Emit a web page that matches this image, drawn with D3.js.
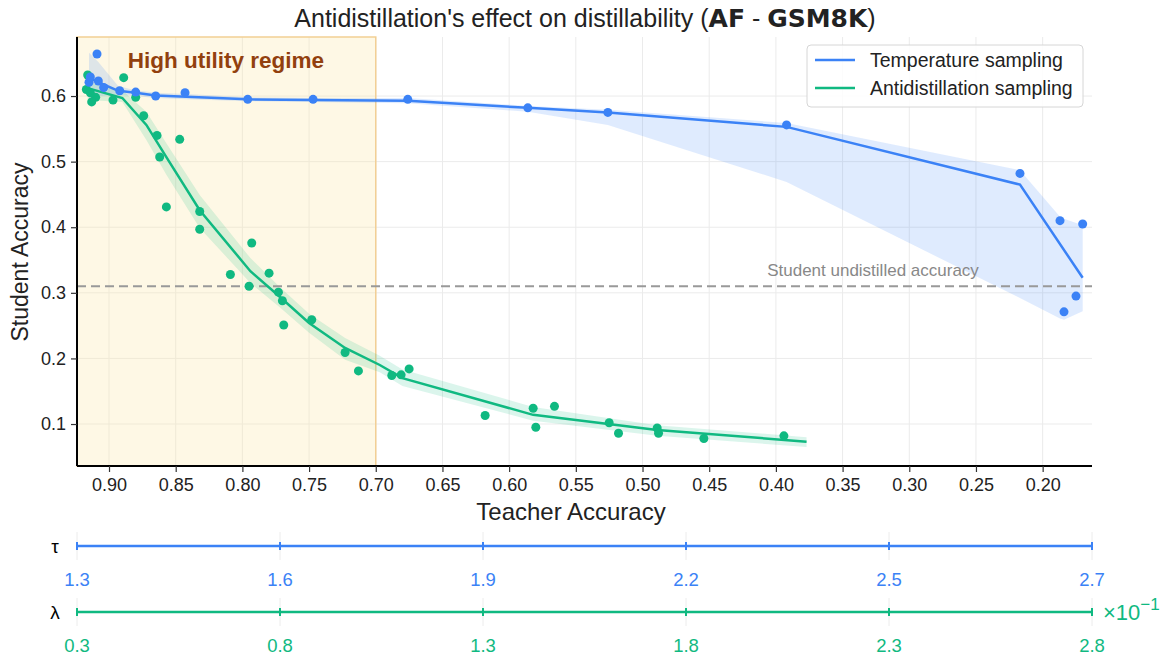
<!DOCTYPE html>
<html>
<head>
<meta charset="utf-8">
<script src="https://cdn.jsdelivr.net/npm/d3@7"></script>
<style>
  body { margin: 0; background: #fff; }
  text { font-family: "Liberation Sans", Arial, sans-serif; }
</style>
</head>
<body>
<div id="chart"></div>
<script>
// ---- data ----
// temperature sampling: scatter points (teacher acc, student acc)
var tempPtX = [0.909, 0.915, 0.914, 0.908, 0.904, 0.892, 0.880, 0.865, 0.843, 0.796, 0.747, 0.676, 0.586, 0.526, 0.392, 0.217, 0.187, 0.170, 0.175, 0.184];
var tempPtY = [0.664, 0.621, 0.629, 0.623, 0.613, 0.608, 0.606, 0.600, 0.605, 0.595, 0.595, 0.595, 0.582, 0.575, 0.556, 0.482, 0.410, 0.405, 0.295, 0.271];
// temperature sampling: mean line
var tempLineX = [0.915, 0.908, 0.893, 0.880, 0.865, 0.842, 0.796, 0.747, 0.676, 0.586, 0.526, 0.392, 0.217, 0.170];
var tempLineY = [0.628, 0.621, 0.608, 0.605, 0.601, 0.599, 0.595, 0.594, 0.593, 0.582, 0.575, 0.553, 0.465, 0.323];
// temperature sampling: confidence band
var tempBandX  = [0.915, 0.908, 0.893, 0.880, 0.865, 0.842, 0.796, 0.747, 0.676, 0.586, 0.526, 0.392, 0.217, 0.187, 0.184, 0.170];
var tempBandHi = [0.666, 0.652, 0.615, 0.609, 0.605, 0.603, 0.598, 0.597, 0.597, 0.585, 0.579, 0.559, 0.487, 0.416, 0.413, 0.403];
var tempBandLo = [0.594, 0.600, 0.602, 0.600, 0.597, 0.595, 0.592, 0.591, 0.589, 0.576, 0.556, 0.469, 0.292, 0.261, 0.259, 0.272];

// antidistillation sampling: scatter points
var antiPtX = [0.916, 0.889, 0.917, 0.914, 0.910, 0.913, 0.897, 0.880, 0.874, 0.864, 0.862, 0.847, 0.857, 0.832, 0.832, 0.793, 0.809, 0.780, 0.795, 0.773, 0.770, 0.769, 0.748, 0.723, 0.713, 0.688, 0.681, 0.675, 0.618, 0.582, 0.580, 0.566, 0.525, 0.518, 0.489, 0.488, 0.454, 0.394];
var antiPtY = [0.632, 0.628, 0.610, 0.605, 0.598, 0.591, 0.594, 0.598, 0.570, 0.540, 0.507, 0.534, 0.431, 0.424, 0.397, 0.376, 0.328, 0.330, 0.310, 0.301, 0.288, 0.251, 0.259, 0.209, 0.181, 0.174, 0.175, 0.184, 0.113, 0.124, 0.095, 0.127, 0.102, 0.086, 0.094, 0.086, 0.078, 0.082];
// antidistillation sampling: mean line and band
var antiLineX = [0.916, 0.890, 0.872, 0.857, 0.832, 0.794, 0.772, 0.750, 0.723, 0.697, 0.680, 0.582, 0.489, 0.377];
var antiLineY = [0.612, 0.597, 0.556, 0.507, 0.426, 0.333, 0.294, 0.254, 0.216, 0.190, 0.170, 0.114, 0.091, 0.073];
var antiBandHi = [0.621, 0.609, 0.576, 0.528, 0.449, 0.353, 0.309, 0.268, 0.231, 0.204, 0.183, 0.126, 0.098, 0.080];
var antiBandLo = [0.594, 0.591, 0.533, 0.480, 0.399, 0.315, 0.278, 0.239, 0.198, 0.179, 0.158, 0.105, 0.082, 0.065];

var undistilled = 0.31;
var regimeEdge = 0.70;

var xTicks = [0.90, 0.85, 0.80, 0.75, 0.70, 0.65, 0.60, 0.55, 0.50, 0.45, 0.40, 0.35, 0.30, 0.25, 0.20];
var yTicks = [0.1, 0.2, 0.3, 0.4, 0.5, 0.6];
var tauLabels = ["1.3", "1.6", "1.9", "2.2", "2.5", "2.7"];
var lambdaLabels = ["0.3", "0.8", "1.3", "1.8", "2.3", "2.8"];

var BLUE = "#3b82f6", GREEN = "#10b981";

var margin = {top: 37, left: 77},
    width = 1015,
    height = 429;

var svg = d3.select("#chart")
  .append("svg")
    .attr("width", 1166)
    .attr("height", 657);

var x = d3.scaleLinear().domain([0.924, 0.163]).range([margin.left, margin.left + width]);
var y = d3.scaleLinear().domain([0.036, 0.690]).range([margin.top + height, margin.top]);

// grid
svg.append("g")
  .selectAll("line")
  .data(xTicks)
  .enter()
  .append("line")
    .attr("x1", function(d) { return x(d); })
    .attr("x2", function(d) { return x(d); })
    .attr("y1", margin.top)
    .attr("y2", margin.top + height)
    .style("stroke", "#ebebeb")
    .style("stroke-width", 1);
svg.append("g")
  .selectAll("line")
  .data(yTicks)
  .enter()
  .append("line")
    .attr("x1", margin.left)
    .attr("x2", margin.left + width)
    .attr("y1", function(d) { return y(d); })
    .attr("y2", function(d) { return y(d); })
    .style("stroke", "#ebebeb")
    .style("stroke-width", 1);

// high utility box
svg.append("rect")
  .attr("x", x.range()[0])
  .attr("y", margin.top)
  .attr("width", x(regimeEdge) - x.range()[0])
  .attr("height", height)
  .style("fill", "#fbe9a8")
  .style("fill-opacity", 0.3)
  .style("stroke", "#f2cf94")
  .style("stroke-width", 1.5);

svg.append("text")
  .attr("x", 226)
  .attr("y", 68)
  .attr("text-anchor", "middle")
  .attr("font-size", "22.5px")
  .attr("font-weight", "bold")
  .style("fill", "#92400e")
  .text("High utility regime");

// bands
var tempBand = tempBandX.map(function(v, i) { return {x: v, lo: tempBandLo[i], hi: tempBandHi[i]}; });
var antiBand = antiLineX.map(function(v, i) { return {x: v, lo: antiBandLo[i], hi: antiBandHi[i]}; });
var area = d3.area()
  .x(function(d) { return x(d.x); })
  .y0(function(d) { return y(d.lo); })
  .y1(function(d) { return y(d.hi); });

svg.append("path").datum(tempBand)
  .attr("d", area)
  .style("fill", BLUE)
  .style("fill-opacity", 0.16);
svg.append("path").datum(antiBand)
  .attr("d", area)
  .style("fill", GREEN)
  .style("fill-opacity", 0.15);

// undistilled reference
svg.append("line")
  .attr("x1", margin.left)
  .attr("x2", margin.left + width)
  .attr("y1", y(undistilled))
  .attr("y2", y(undistilled))
  .style("stroke", "#999")
  .style("stroke-width", 2)
  .style("stroke-dasharray", "9,5");
svg.append("text")
  .attr("x", 873)
  .attr("y", 276)
  .attr("text-anchor", "middle")
  .attr("font-size", "17px")
  .style("fill", "#888")
  .text("Student undistilled accuracy");

// lines
var line = d3.line()
  .x(function(d) { return x(d[0]); })
  .y(function(d) { return y(d[1]); });

svg.append("path")
  .datum(d3.zip(tempLineX, tempLineY))
  .attr("d", line)
  .style("fill", "none")
  .style("stroke", BLUE)
  .style("stroke-width", 2.5);
svg.append("path")
  .datum(d3.zip(antiLineX, antiLineY))
  .attr("d", line)
  .style("fill", "none")
  .style("stroke", GREEN)
  .style("stroke-width", 2.5);

// points
svg.append("g")
  .selectAll("circle")
  .data(d3.zip(antiPtX, antiPtY))
  .enter()
  .append("circle")
    .attr("cx", function(d) { return x(d[0]); })
    .attr("cy", function(d) { return y(d[1]); })
    .attr("r", 4.5)
    .style("fill", GREEN);
svg.append("g")
  .selectAll("circle")
  .data(d3.zip(tempPtX, tempPtY))
  .enter()
  .append("circle")
    .attr("cx", function(d) { return x(d[0]); })
    .attr("cy", function(d) { return y(d[1]); })
    .attr("r", 4.5)
    .style("fill", BLUE);

// axes
var xAxis = svg.append("g")
  .attr("transform", "translate(0," + (margin.top + height) + ")")
  .call(d3.axisBottom(x).tickValues(xTicks).tickFormat(d3.format(".2f")).tickSize(6).tickPadding(6));
var yAxis = svg.append("g")
  .attr("transform", "translate(" + margin.left + ",0)")
  .call(d3.axisLeft(y).tickValues(yTicks).tickFormat(d3.format(".1f")).tickSize(6).tickPadding(5));
[xAxis, yAxis].forEach(function(a) {
  a.select(".domain").style("stroke", "#000").style("stroke-width", 2);
  a.selectAll(".tick line").style("stroke", "#333").style("stroke-width", 1.2);
  a.selectAll(".tick text")
    .attr("font-size", "18px")
    .attr("font-family", "Liberation Sans, Arial, sans-serif")
    .style("fill", "#222");
});
xAxis.select(".domain").attr("d", "M" + margin.left + ",0H" + (margin.left + width));
yAxis.select(".domain").attr("d", "M0," + (margin.top + height) + "V" + margin.top);

svg.append("text")
  .attr("x", 571)
  .attr("y", 520)
  .attr("text-anchor", "middle")
  .attr("font-size", "24px")
  .style("fill", "#222")
  .text("Teacher Accuracy");

svg.append("text")
  .attr("transform", "rotate(-90)")
  .attr("x", -252)
  .attr("y", 28)
  .attr("text-anchor", "middle")
  .attr("font-size", "23px")
  .style("fill", "#222")
  .text("Student Accuracy");

// title
var title = svg.append("text")
  .attr("x", 585)
  .attr("y", 27)
  .attr("text-anchor", "middle")
  .attr("font-size", "25px")
  .style("fill", "#222");
title.append("tspan").text("Antidistillation's effect on distillability (");
title.append("tspan").attr("font-weight", "bold").attr("font-family", "DejaVu Sans").text("AF");
title.append("tspan").text(" - ");
title.append("tspan").attr("font-weight", "bold").attr("font-family", "DejaVu Sans").text("GSM8K");
title.append("tspan").text(")");

// legend
var legend = svg.append("g");
legend.append("rect")
  .attr("x", 807)
  .attr("y", 45)
  .attr("width", 276)
  .attr("height", 62)
  .attr("rx", 4)
  .style("fill", "#fff")
  .style("fill-opacity", 0.85)
  .style("stroke", "#d6d6d6");
[["Temperature sampling", BLUE, 60], ["Antidistillation sampling", GREEN, 88]].forEach(function(e) {
  legend.append("line")
    .attr("x1", 815).attr("x2", 855)
    .attr("y1", e[2]).attr("y2", e[2])
    .style("stroke", e[1])
    .style("stroke-width", 2.5);
  legend.append("text")
    .attr("x", 870)
    .attr("y", e[2] + 7)
    .attr("font-size", "19.5px")
    .style("fill", "#222")
    .text(e[0]);
});

// parameter axes under the plot
function paramAxis(labels, yPos, color, symbol) {
  var p = d3.scalePoint().domain(labels).range([margin.left, margin.left + width]);
  var g = svg.append("g");
  g.selectAll(".pgrid")
    .data(labels)
    .enter()
    .append("line")
      .attr("x1", function(d) { return p(d); })
      .attr("x2", function(d) { return p(d); })
      .attr("y1", yPos - 14)
      .attr("y2", yPos + 14)
      .style("stroke", "#ececec");
  g.append("line")
    .attr("x1", margin.left).attr("x2", margin.left + width)
    .attr("y1", yPos).attr("y2", yPos)
    .style("stroke", color)
    .style("stroke-width", 2.5);
  g.selectAll(".ptick")
    .data(labels)
    .enter()
    .append("line")
      .attr("x1", function(d) { return p(d); })
      .attr("x2", function(d) { return p(d); })
      .attr("y1", yPos - 4)
      .attr("y2", yPos + 4)
      .style("stroke", color)
      .style("stroke-width", 2);
  g.selectAll(".plabel")
    .data(labels)
    .enter()
    .append("text")
      .attr("x", function(d) { return p(d); })
      .attr("y", yPos + 40)
      .attr("text-anchor", "middle")
      .attr("font-size", "18.5px")
      .style("fill", color)
      .text(function(d) { return d; });
  g.append("text")
    .attr("x", 55)
    .attr("y", yPos + 7)
    .attr("text-anchor", "middle")
    .attr("font-size", "19px")
    .style("fill", "#000")
    .text(symbol);
  return g;
}

paramAxis(tauLabels, 546, BLUE, "τ");
var lam = paramAxis(lambdaLabels, 612, GREEN, "λ");
var mult = lam.append("text")
  .attr("x", 1103)
  .attr("y", 620)
  .attr("font-size", "22px")
  .style("fill", GREEN);
mult.append("tspan").text("×10");
mult.append("tspan").attr("dy", -10).attr("font-size", "17px").text("−1");
</script>
</body>
</html>
